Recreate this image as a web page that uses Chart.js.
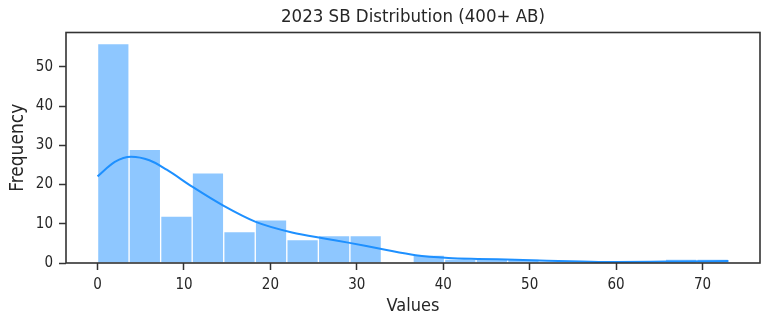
<!DOCTYPE html>
<html>
<head>
<meta charset="utf-8">
<script src="https://cdn.jsdelivr.net/npm/chart.js@4.4.1/dist/chart.umd.min.js"></script>
<style>
  html, body { margin: 0; padding: 0; background: #fff; }
  #wrap { width: 773px; height: 325px; }
</style>
</head>
<body>
<div id="wrap"><canvas id="sb-chart"></canvas></div>
<script>
//? Histogram bins (left edge of each bin, width 3.65)
const binLeft = [0, 3.65, 7.3, 10.95, 14.6, 18.25, 21.9, 25.55, 29.2, 32.85,
                 36.5, 40.15, 43.8, 47.45, 51.1, 54.75, 58.4, 62.05, 65.7, 69.35]
const binWidth = 3.65
const binCounts = [56, 29, 12, 23, 8, 11, 6, 7, 7, 0,
                   2, 1, 1, 1, 0, 0, 0, 0, 1, 1]

//? KDE curve
const kdeX = [0, 2, 3.9, 6, 8, 11, 14.5, 18.3, 22.5, 26.4, 29, 33, 36.8,
              40.6, 44, 48.3, 52, 56, 60, 64, 67.5, 73]
const kdeY = [22.1, 25.8, 27.1, 26.2, 23.8, 19.4, 14.7, 10.5, 7.8, 6.2, 5.2, 3.5, 2.0,
              1.3, 1.05, 0.85, 0.6, 0.4, 0.25, 0.3, 0.4, 0.5]

//? Axis ticks
const xTicks = [0, 10, 20, 30, 40, 50, 60, 70]
const yTicks = [0, 10, 20, 30, 40, 50]

const FONT = "'DejaVu Sans Condensed', 'DejaVu Sans', sans-serif"
const INK = '#262626'

const histData = binLeft.map((x0, i) => ({ x: x0 + binWidth / 2, y: binCounts[i] }))
const kdeData = kdeX.map((x, i) => ({ x: x, y: kdeY[i] }))

// frame around the plot area
const frame = {
    id: 'frame',
    afterDraw(chart) {
        const { ctx, chartArea: a } = chart
        ctx.save()
        ctx.strokeStyle = '#333'
        ctx.lineWidth = 1.6
        ctx.strokeRect(a.left, a.top, a.right - a.left, a.bottom - a.top)
        ctx.restore()
    }
}

const config = {
    type: 'bar',
    data: {
        datasets: [
            {
                type: 'line',
                label: 'KDE',
                data: kdeData,
                borderColor: '#1E90FF',
                borderWidth: 2,
                pointRadius: 0,
                cubicInterpolationMode: 'monotone',
                fill: false
            },
            {
                label: 'SB',
                data: histData,
                backgroundColor: 'rgba(30, 144, 255, 0.5)',
                borderColor: '#ffffff',
                borderWidth: 1,
                borderSkipped: 'start',
                barPercentage: 1,
                categoryPercentage: 1
            }
        ]
    },
    options: {
        responsive: false,
        animation: false,
        layout: { padding: { top: 0, right: 13, bottom: 0, left: 0 } },
        plugins: {
            legend: { display: false },
            tooltip: { enabled: false },
            title: {
                display: true,
                fullSize: false,
                text: '2023 SB Distribution (400+ AB)',
                color: INK,
                font: { family: FONT, size: 18.5, weight: 'normal', lineHeight: 1 },
                padding: { top: 8, bottom: 6 }
            }
        },
        scales: {
            x: {
                type: 'linear',
                min: -3.65,
                max: 76.65,
                offset: false,
                afterBuildTicks: s => { s.ticks = xTicks.map(v => ({ value: v })) },
                afterFit: s => { s.height = 62 },
                grid: { drawOnChartArea: false, drawTicks: true, tickLength: 7, tickWidth: 1.5, color: '#333', offset: false },
                border: { display: false },
                ticks: { color: INK, padding: 6, font: { family: FONT, size: 15 } },
                title: {
                    display: true,
                    text: 'Values',
                    color: INK,
                    font: { family: FONT, size: 18 },
                    padding: { top: 0, bottom: 8 }
                }
            },
            y: {
                min: 0,
                max: 58.8,
                afterBuildTicks: s => { s.ticks = yTicks.map(v => ({ value: v })) },
                afterFit: s => { s.width = 66 },
                grid: { drawOnChartArea: false, drawTicks: true, tickLength: 7, tickWidth: 1.5, color: '#333' },
                border: { display: false },
                ticks: { color: INK, padding: 6, font: { family: FONT, size: 15 } },
                title: {
                    display: true,
                    text: 'Frequency',
                    color: INK,
                    font: { family: FONT, size: 19 },
                    padding: { top: 7, bottom: 0 }
                }
            }
        }
    },
    plugins: [frame]
}

const canvas = document.getElementById('sb-chart')
canvas.width = 773
canvas.height = 325
const sbChart = new Chart(canvas, config)
</script>
</body>
</html>
